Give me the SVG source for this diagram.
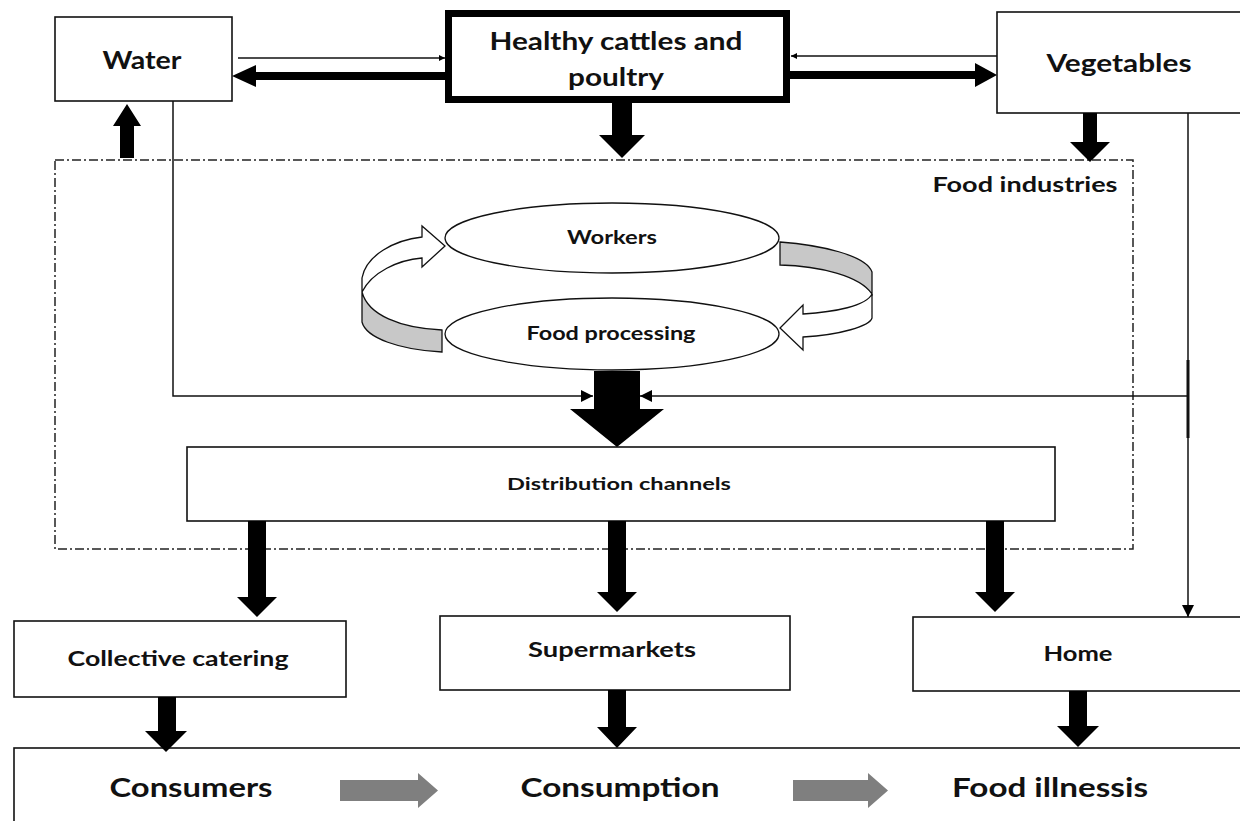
<svg xmlns="http://www.w3.org/2000/svg" width="1240" height="821" viewBox="0 0 1240 821">
<defs>
<marker id="sa" viewBox="0 0 10 10" refX="10" refY="5" markerWidth="6" markerHeight="6" orient="auto" markerUnits="userSpaceOnUse">
<path d="M0,0 L10,5 L0,10 Z" fill="#000"/>
</marker>
<marker id="ma" viewBox="0 0 10 10" refX="10" refY="5" markerWidth="14" markerHeight="12" orient="auto" markerUnits="userSpaceOnUse">
<path d="M0,0 L10,5 L0,10 Z" fill="#000"/>
</marker>
</defs>
<style>
.box{fill:#fff;stroke:#111;stroke-width:1.6}
.t{font-family:Lato,"Liberation Sans",sans-serif;font-weight:bold;fill:#111;text-anchor:middle}
.blk{fill:#000}
.thin{fill:none;stroke:#111;stroke-width:1.5}
.ell{fill:#fff;stroke:#111;stroke-width:1.3}
.gry{fill:#7f7f7f}
</style>
<rect width="1240" height="821" fill="#fff"/>

<g id="food-industries">
<rect x="55" y="160" width="1078" height="389" fill="none" stroke="#222" stroke-width="1.5" stroke-dasharray="9,3,2,3"/>
<text class="t" x="1025" y="192" font-size="20" textLength="185" lengthAdjust="spacingAndGlyphs">Food industries</text>
</g>

<g id="water">
<rect class="box" x="55" y="17" width="177" height="84"/>
<text class="t" x="142" y="69" font-size="24" textLength="79" lengthAdjust="spacingAndGlyphs">Water</text>
</g>

<g id="healthy">
<rect x="448.5" y="13.5" width="338" height="86" fill="#fff" stroke="#000" stroke-width="7"/>
<text class="t" x="616" y="50" font-size="25" textLength="253" lengthAdjust="spacingAndGlyphs">Healthy cattles and</text>
<text class="t" x="616" y="86" font-size="25" textLength="96" lengthAdjust="spacingAndGlyphs">poultry</text>
</g>

<g id="vegetables">
<rect class="box" x="997" y="12" width="260" height="101"/>
<text class="t" x="1119" y="72" font-size="25" textLength="145" lengthAdjust="spacingAndGlyphs">Vegetables</text>
</g>

<g id="workers">
<ellipse class="ell" cx="612" cy="238" rx="167" ry="35"/>
<text class="t" x="612" y="244" font-size="18" textLength="90" lengthAdjust="spacingAndGlyphs">Workers</text>
</g>

<g id="food-processing">
<ellipse class="ell" cx="612" cy="334" rx="167" ry="36"/>
<text class="t" x="611" y="340" font-size="18" textLength="169" lengthAdjust="spacingAndGlyphs">Food processing</text>
</g>

<g id="distribution">
<rect class="box" x="187" y="447" width="868" height="74"/>
<text class="t" x="619" y="490" font-size="17" textLength="224" lengthAdjust="spacingAndGlyphs">Distribution channels</text>
</g>

<g id="collective">
<rect class="box" x="14" y="621" width="332" height="76"/>
<text class="t" x="178" y="666" font-size="20" textLength="221" lengthAdjust="spacingAndGlyphs">Collective catering</text>
</g>

<g id="supermarkets">
<rect class="box" x="440" y="616" width="350" height="74"/>
<text class="t" x="612" y="657" font-size="20" textLength="168" lengthAdjust="spacingAndGlyphs">Supermarkets</text>
</g>

<g id="home">
<rect class="box" x="913" y="617" width="340" height="74"/>
<text class="t" x="1078" y="661" font-size="20" textLength="69" lengthAdjust="spacingAndGlyphs">Home</text>
</g>

<g id="consumers-bar">
<rect class="box" x="14" y="748" width="1240" height="90"/>
<text class="t" x="191" y="797" font-size="27" textLength="163" lengthAdjust="spacingAndGlyphs">Consumers</text>
<text class="t" x="620" y="797" font-size="27" textLength="199" lengthAdjust="spacingAndGlyphs">Consumption</text>
<text class="t" x="1050" y="797" font-size="27" textLength="196" lengthAdjust="spacingAndGlyphs">Food illnessis</text>
<polygon class="gry" points="340,780 418,780 418,773 438,790.5 418,808 418,801 340,801"/>
<polygon class="gry" points="793,780 868,780 868,773 888,790.5 868,808 868,801 793,801"/>
</g>

<g id="connectors">
<!-- Water <-> Healthy -->
<line class="thin" x1="238" y1="58" x2="445" y2="58" marker-end="url(#sa)"/>
<polygon class="blk" points="445,72 256,72 256,65 232,76 256,87 256,80 445,80"/>
<!-- Healthy <-> Vegetables -->
<line class="thin" x1="997" y1="56" x2="791" y2="56" marker-end="url(#sa)"/>
<polygon class="blk" points="790,71 975,71 975,63 997,75 975,87 975,79 790,79"/>
<!-- Healthy down -->
<polygon class="blk" points="612,103 632,103 632,135 645,135 622,158 599,135 612,135"/>
<!-- Vegetables down -->
<polygon class="blk" points="1083,113 1097,113 1097,142 1110,142 1090,162 1070,142 1083,142"/>
<!-- Up to Water -->
<polygon class="blk" points="120,158 134,158 134,126 141,126 127,104 113,126 120,126"/>
<!-- Water thin line into big arrow -->
<polyline class="thin" points="173,101 173,396 593,396" marker-end="url(#ma)"/>
<!-- Vegetables thin line to Home and branch to big arrow -->
<line class="thin" x1="1188" y1="113" x2="1188" y2="617" marker-end="url(#ma)"/>
<line x1="1188" y1="360" x2="1188" y2="438" stroke="#111" stroke-width="3"/>
<line class="thin" x1="1188" y1="396" x2="640" y2="396" marker-end="url(#ma)"/>
<!-- Workers/Food processing curved arrows -->
<path d="M362,278 C366,255 395,240 422,237 L422,226 L445,246 L422,267 L422,258 C398,260 372,272 362,292 Z" fill="#fff" stroke="#111" stroke-width="1.3"/>
<path d="M362,292 C368,315 400,328 442,330 L442,352 C400,350 366,338 362,322 Z" fill="#c8c8c8" stroke="#111" stroke-width="1.3"/>
<path d="M780,242 C820,245 866,255 872,272 L872,294 C860,276 820,266 780,265 Z" fill="#c8c8c8" stroke="#111" stroke-width="1.3"/>
<path d="M872,294 C866,306 835,312 803,314 L803,305 L780,328 L803,350 L803,337 C840,335 870,326 872,318 Z" fill="#fff" stroke="#111" stroke-width="1.3"/>
<!-- big arrow from food processing -->
<polygon class="blk" points="594,371 640,371 640,409 664,409 617,447 570,409 594,409"/>
<!-- Distribution down arrows -->
<polygon class="blk" points="248,521 266,521 266,597 277,597 257,617 237,597 248,597"/>
<polygon class="blk" points="608,521 626,521 626,592 637,592 617,612 597,592 608,592"/>
<polygon class="blk" points="986,521 1004,521 1004,592 1015,592 995,612 975,592 986,592"/>
<!-- to consumers bar -->
<polygon class="blk" points="158,697 176,697 176,731 187,731 166,752 145,731 158,731"/>
<polygon class="blk" points="608,690 626,690 626,727 637,727 617,748 597,727 608,727"/>
<polygon class="blk" points="1069,691 1087,691 1087,726 1099,726 1078,747 1057,726 1069,726"/>
</g>
</svg>
